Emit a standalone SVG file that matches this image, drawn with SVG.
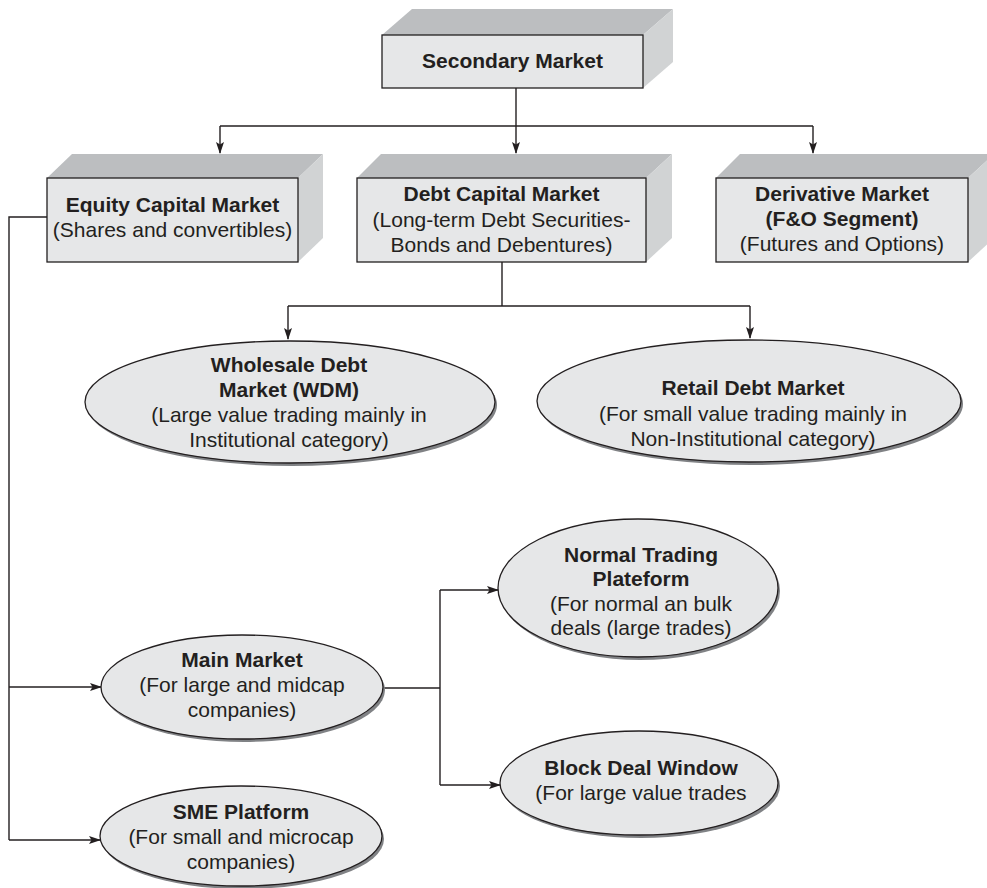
<svg xmlns="http://www.w3.org/2000/svg" width="987" height="888" viewBox="0 0 987 888">
  <style>
    text { font-family: "Liberation Sans", Arial, sans-serif; font-size: 21px; fill: #231f20; text-anchor: middle; }
    .b { font-weight: bold; }
    .front { fill: #e6e7e8; stroke: #231f20; stroke-width: 1.3; }
    .top { fill: #bcbec0; }
    .side { fill: #d1d3d4; }
    .oval { fill: #e6e7e8; stroke: #231f20; stroke-width: 1.3; }
    .shadow { fill: #808285; }
    .wire { fill: none; stroke: #231f20; stroke-width: 1.4; }
  </style>
  <defs>
    <marker id="arrow" viewBox="0 0 12 8" refX="11" refY="4" markerWidth="12" markerHeight="8" markerUnits="userSpaceOnUse" orient="auto">
      <path d="M0,0 L12,4 L0,8 L2.5,4 z" fill="#231f20"/>
    </marker>
  </defs>
  <rect width="987" height="888" fill="#ffffff"/>

  <!-- connectors -->
  <g id="connectors">
    <path class="wire" d="M516,88 V126"/>
    <path class="wire" d="M220,126 H813"/>
    <path class="wire" d="M220,126 V153" marker-end="url(#arrow)"/>
    <path class="wire" d="M516,126 V153" marker-end="url(#arrow)"/>
    <path class="wire" d="M813,126 V153" marker-end="url(#arrow)"/>

    <path class="wire" d="M502,262 V306"/>
    <path class="wire" d="M288,306 H750"/>
    <path class="wire" d="M288,306 V339" marker-end="url(#arrow)"/>
    <path class="wire" d="M750,306 V338" marker-end="url(#arrow)"/>

    <path class="wire" d="M47,217 H9 V840"/>
    <path class="wire" d="M9,687 H101" marker-end="url(#arrow)"/>
    <path class="wire" d="M9,840 H100" marker-end="url(#arrow)"/>

    <path class="wire" d="M383,688 H440"/>
    <path class="wire" d="M440,590 V785"/>
    <path class="wire" d="M440,590 H498" marker-end="url(#arrow)"/>
    <path class="wire" d="M440,785 H500" marker-end="url(#arrow)"/>
  </g>

  <!-- level 1 -->
  <g id="secondary-market">
    <polygon class="top" points="382,35 412,9 673,9 643,35"/>
    <polygon class="side" points="643,35 673,9 673,62 643,88"/>
    <rect class="front" x="382" y="35" width="261" height="53"/>
    <text class="b" x="512.5" y="68">Secondary Market</text>
  </g>

  <!-- level 2 -->
  <g id="equity-capital-market">
    <polygon class="top" points="47,178 72,154 323,154 298,178"/>
    <polygon class="side" points="298,178 323,154 323,238 298,262"/>
    <rect class="front" x="47" y="178" width="251" height="84"/>
    <text class="b" x="172.5" y="212">Equity Capital Market</text>
    <text x="172.5" y="237">(Shares and convertibles)</text>
  </g>

  <g id="debt-capital-market">
    <polygon class="top" points="357,178 381,154 672,154 646,178"/>
    <polygon class="side" points="646,178 672,154 672,238 646,262"/>
    <rect class="front" x="357" y="178" width="289" height="84"/>
    <text class="b" x="501.5" y="201">Debt Capital Market</text>
    <text x="501.5" y="227">(Long-term Debt Securities-</text>
    <text x="501.5" y="252">Bonds and Debentures)</text>
  </g>

  <g id="derivative-market">
    <polygon class="top" points="716,178 740,154 994,154 968,178"/>
    <polygon class="side" points="968,178 994,154 994,238 968,262"/>
    <rect class="front" x="716" y="178" width="252" height="84"/>
    <text class="b" x="842" y="201">Derivative Market</text>
    <text class="b" x="842" y="226">(F&amp;O Segment)</text>
    <text x="842" y="251">(Futures and Options)</text>
  </g>

  <!-- debt segments -->
  <g id="wholesale-debt-market">
    <ellipse class="shadow" cx="292" cy="405" rx="205" ry="61"/>
    <ellipse class="oval" cx="290" cy="402" rx="205" ry="61"/>
    <text class="b" x="289" y="372">Wholesale Debt</text>
    <text class="b" x="289" y="397">Market (WDM)</text>
    <text x="289" y="422">(Large value trading mainly in</text>
    <text x="289" y="447">Institutional category)</text>
  </g>

  <g id="retail-debt-market">
    <ellipse class="shadow" cx="751" cy="404" rx="212" ry="61"/>
    <ellipse class="oval" cx="749" cy="401" rx="212" ry="61"/>
    <text class="b" x="753" y="395">Retail Debt Market</text>
    <text x="753" y="421">(For small value trading mainly in</text>
    <text x="753" y="446">Non-Institutional category)</text>
  </g>

  <!-- equity segments -->
  <g id="main-market">
    <ellipse class="shadow" cx="244" cy="690" rx="141" ry="52"/>
    <ellipse class="oval" cx="242" cy="687" rx="141" ry="52"/>
    <text class="b" x="242" y="667">Main Market</text>
    <text x="242" y="692">(For large and midcap</text>
    <text x="242" y="717">companies)</text>
  </g>

  <g id="sme-platform">
    <ellipse class="shadow" cx="243" cy="839" rx="141" ry="50"/>
    <ellipse class="oval" cx="241" cy="836" rx="141" ry="50"/>
    <text class="b" x="241" y="819">SME Platform</text>
    <text x="241" y="844">(For small and microcap</text>
    <text x="241" y="869">companies)</text>
  </g>

  <g id="normal-trading-plateform">
    <ellipse class="shadow" cx="640" cy="591" rx="140" ry="69"/>
    <ellipse class="oval" cx="638" cy="588" rx="140" ry="69"/>
    <text class="b" x="641" y="562">Normal Trading</text>
    <text class="b" x="641" y="586">Plateform</text>
    <text x="641" y="611">(For normal an bulk</text>
    <text x="641" y="635">deals (large trades)</text>
  </g>

  <g id="block-deal-window">
    <ellipse class="shadow" cx="641" cy="786" rx="139" ry="52"/>
    <ellipse class="oval" cx="639" cy="783" rx="139" ry="52"/>
    <text class="b" x="641" y="775">Block Deal Window</text>
    <text x="641" y="800">(For large value trades</text>
  </g>
</svg>
